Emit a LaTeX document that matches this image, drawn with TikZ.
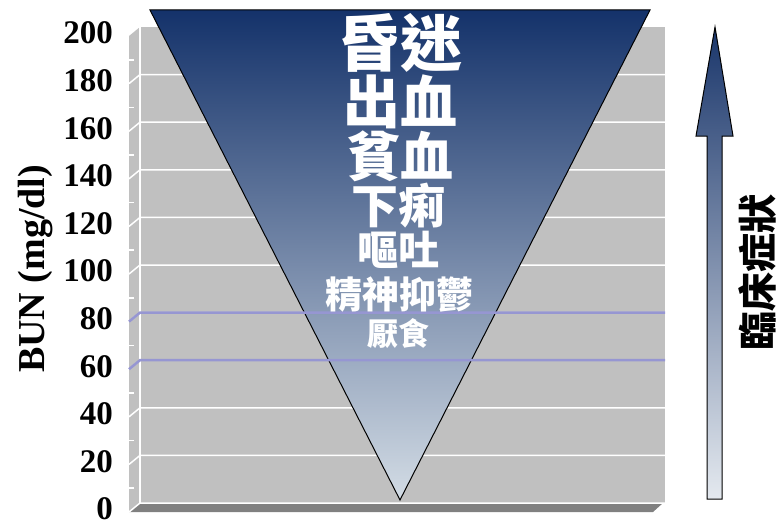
\documentclass[tikz,border=0pt]{standalone}
\usepackage{fontspec}
\setmainfont{Liberation Serif}
\newfontfamily\cjk{Noto Sans CJK TC}
\definecolor{wallgray}{RGB}{192,192,192}
\definecolor{floorgray}{RGB}{128,128,128}
\definecolor{lav}{RGB}{150,150,210}
\definecolor{navy}{RGB}{20,50,106}
\definecolor{paleblue}{RGB}{211,220,229}
\definecolor{arrowtop}{RGB}{26,54,107}
\definecolor{arrowbot}{RGB}{228,233,239}
\begin{document}
\begin{tikzpicture}[x=1pt,y=-1pt,
  gridline/.style={white,line width=1.5pt},
  lvl/.style={draw=lav,line width=2.5pt},
  num/.style={font=\fontsize{33}{33}\selectfont\bfseries,anchor=east,inner sep=0pt},
  sym/.style={text=white,inner sep=0pt},
  outline/.style={draw=black,line width=1pt,line join=miter}]
\useasboundingbox (0,0) rectangle (778,524);
% walls
\fill[wallgray] (129,36) -- (140,27) -- (140,503) -- (129,512) -- cycle;
\fill[wallgray] (140,27) rectangle (665,503);
\fill[floorgray] (129,512) -- (140,503) -- (663,503) -- (653,512) -- cycle;
% gridlines
\foreach \v in {0,20,...,180}{
  \draw[gridline] (129,{512-2.38*\v}) -- (140,{503-2.38*\v}) -- (665,{503-2.38*\v});
}
\foreach \v in {10,30,...,190}{
  \draw[gridline] (129,{512-2.38*\v}) -- (134,{512-2.38*\v});
}
\draw[gridline] (140,27) -- (140,503);
% axis labels
\foreach \v in {0,20,...,200}{
  \node[num] (n\v) at (113,{509-2.38*\v}) {\v};
}
\node[rotate=90,anchor=base,inner sep=0pt,font=\fontsize{38}{38}\selectfont\bfseries] (ytitle) at (44,269) {BUN (mg/dl)};
% triangle
\coordinate (tl) at (150,10);
\coordinate (tr) at (650,10);
\coordinate (apex) at (400,500);
\path[outline,top color=navy,bottom color=paleblue] (tl) -- (tr) -- (apex) -- cycle;
% level lines
\foreach \v in {60,80}{
  \draw[lvl] (129,{512-2.38*\v}) -- (140,{503-2.38*\v}) -- (665,{503-2.38*\v});
}
% symptoms
\node[sym,font=\cjk\bfseries\fontsize{62}{62}\selectfont] (s1) at (400,43) {昏迷};
\node[sym,font=\cjk\bfseries\fontsize{57}{57}\selectfont] (s2) at (400,102) {出血};
\node[sym,font=\cjk\bfseries\fontsize{53}{53}\selectfont] (s3) at (400,156) {貧血};
\node[sym,font=\cjk\bfseries\fontsize{47}{47}\selectfont] (s4) at (398,206) {下痢};
\node[sym,font=\cjk\bfseries\fontsize{41}{41}\selectfont] (s5) at (398,250) {嘔吐};
\node[sym,font=\cjk\bfseries\fontsize{37}{37}\selectfont] (s6) at (399,295) {精神抑鬱};
\node[sym,font=\cjk\bfseries\fontsize{31}{31}\selectfont] (s7) at (398,334) {厭食};
% arrow
\path[outline,top color=arrowtop,bottom color=arrowbot]
  (707,499) -- (707,136) -- (696,136) -- (715,27) -- (733,136) -- (722,136) -- (722,499) -- cycle;
\node[rotate=90,inner sep=0pt,font=\cjk\bfseries\fontsize{39}{39}\selectfont] (clin) at (757,272) {臨床症狀};
\end{tikzpicture}
\end{document}
